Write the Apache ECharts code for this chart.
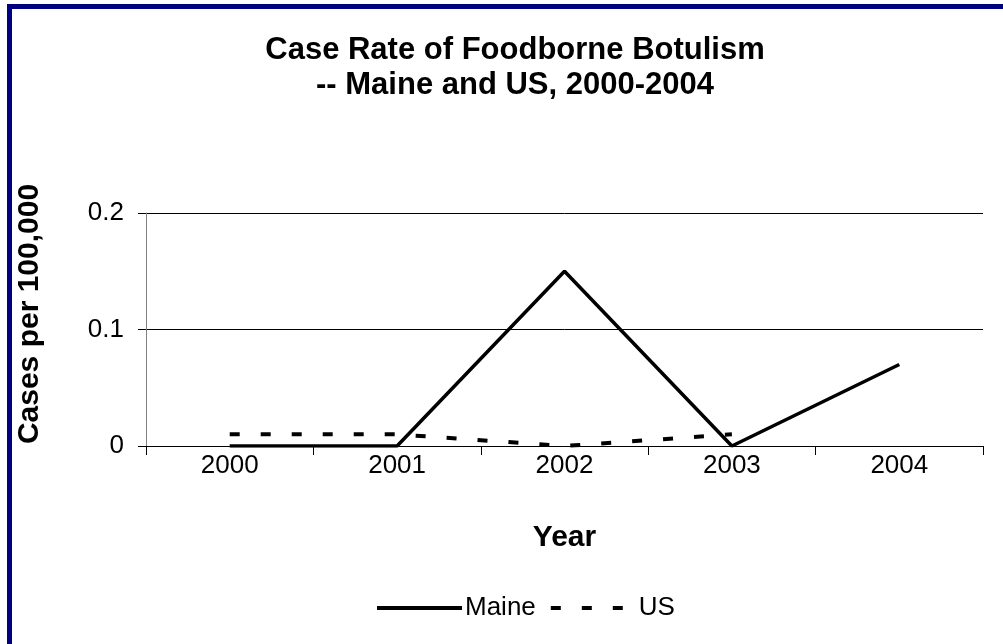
<!DOCTYPE html>
<html>
<head>
<meta charset="utf-8">
<script src="https://cdn.jsdelivr.net/npm/echarts@6/dist/echarts.min.js"></script>
<style>
html,body{margin:0;padding:0;background:#fff;overflow:hidden;}
#frame{position:absolute;left:7px;top:4px;width:1010px;height:660px;border-left:5px solid #000080;border-top:5px solid #000080;box-sizing:border-box;}
#chart{position:absolute;left:0;top:0;width:1003px;height:644px;}
</style>
</head>
<body>
<div id="frame"></div>
<div id="chart"></div>
<script>
const years = ['2000', '2001', '2002', '2003', '2004'];
const maine = [0, 0, 0.15, 0, 0.07];
const us = [0.01, 0.01, 0, 0.01, null];
const yTicks = [0, 0.1, 0.2];

const font = 'Arial, "Liberation Sans", sans-serif';
const chart = echarts.init(document.getElementById('chart'), null, {renderer: 'canvas'});
chart.setOption({
  animation: false,
  backgroundColor: 'transparent',
  title: {
    text: 'Case Rate of Foodborne Botulism\n-- Maine and US, 2000-2004',
    left: 510, top: 28, textAlign: 'center',
    textStyle: {fontFamily: font, fontWeight: 'bold', fontSize: 31, lineHeight: 35, color: '#000'}
  },
  legend: {
    data: ['Maine', 'US'],
    left: 370, top: 590,
    itemWidth: 85, itemHeight: 4, itemGap: 13,
    itemStyle: {opacity: 0},
    lineStyle: {width: 4},
    textStyle: {fontFamily: font, fontSize: 26, color: '#000', padding: [0, 0, 0, -2]}
  },
  graphic: [{
    type: 'text', x: 30, y: 314, rotation: Math.PI / 2,
    style: {text: 'Cases per 100,000', fontFamily: font, fontWeight: 'bold', fontSize: 30,
      fill: '#000', align: 'center', verticalAlign: 'middle'}
  }],
  grid: {left: 146, right: 20, top: 213, bottom: 198},
  xAxis: {
    type: 'category', data: years, boundaryGap: true,
    name: 'Year', nameLocation: 'middle', nameGap: 77,
    nameTextStyle: {fontFamily: font, fontWeight: 'bold', fontSize: 30, color: '#000'},
    axisLine: {lineStyle: {color: '#000', width: 1}},
    axisTick: {show: true, length: 9, lineStyle: {color: '#000'}},
    axisLabel: {fontFamily: font, fontSize: 26, color: '#000', margin: 7},
    splitLine: {show: false}
  },
  yAxis: {
    type: 'value', min: 0, max: 0.2, interval: 0.1,
    axisLine: {show: true, lineStyle: {color: '#808080', width: 1}},
    axisTick: {show: true, length: 8, inside: false, lineStyle: {color: '#000'}},
    axisLabel: {fontFamily: font, fontSize: 26, color: '#000', margin: 22,
      formatter: v => yTicks.includes(Math.round(v * 10) / 10) ? String(Math.round(v * 10) / 10) : ''},
    splitLine: {show: true, lineStyle: {color: '#000', width: 1}}
  },
  series: [
    {name: 'Maine', type: 'line', data: maine, symbol: 'none',
      lineStyle: {color: '#000', width: 3.5, type: 'solid'}, itemStyle: {color: '#000'}},
    {name: 'US', type: 'line', data: us, symbol: 'none', connectNulls: false,
      lineStyle: {color: '#000', width: 4, type: [10, 21]}, itemStyle: {color: '#000'}}
  ]
});
</script>
</body>
</html>
